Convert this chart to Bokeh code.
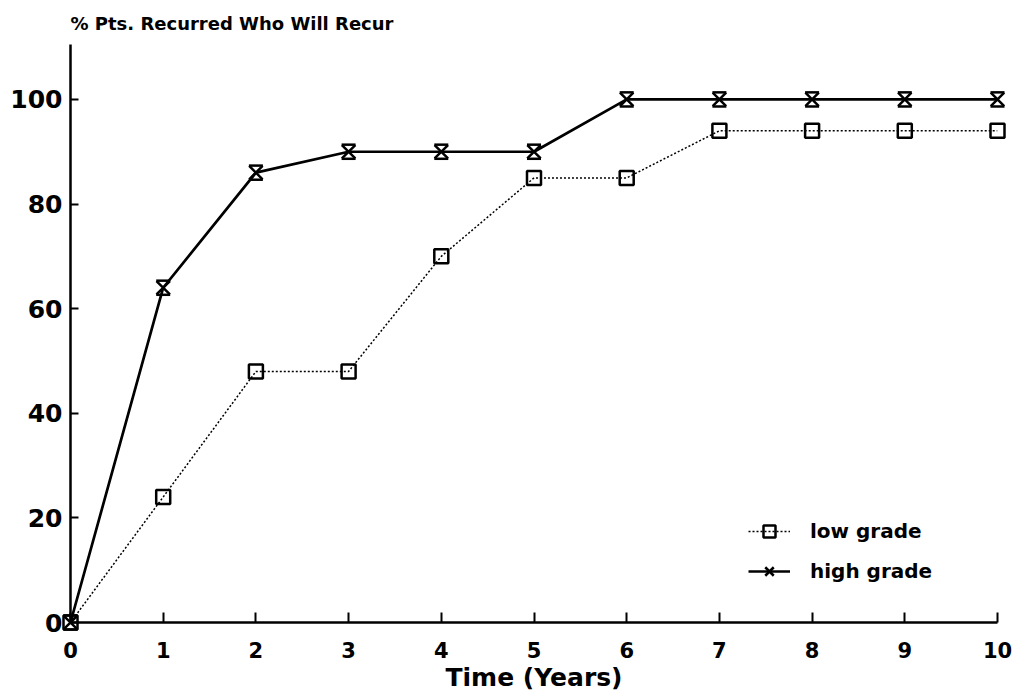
from bokeh.plotting import figure, ColumnDataSource
from bokeh.models import Range1d, FixedTicker, Legend, LegendItem
from bokeh.transform import dodge
from bokeh.embed import file_html
from bokeh.resources import INLINE

# ---- data ----
years = [0, 1, 2, 3, 4, 5, 6, 7, 8, 9, 10]
low_grade = [0, 24, 48, 48, 70, 85, 85, 94, 94, 94, 94]
high_grade = [0, 64, 86, 90, 90, 90, 100, 100, 100, 100, 100]
x_ticks = [0, 1, 2, 3, 4, 5, 6, 7, 8, 9, 10]
y_ticks = [0, 20, 40, 60, 80, 100]
title_text = "% Pts. Recurred Who Will Recur"
x_label = "Time (Years)"
series_names = ["low grade", "high grade"]

FONT = "DejaVu Sans"

src = ColumnDataSource(dict(x=years, low=low_grade, high=high_grade))

p = figure(width=1014, height=694, output_backend="svg", toolbar_location=None,
           x_range=Range1d(0, 10), y_range=Range1d(0, 110.5),
           min_border_left=70, min_border_right=17, min_border_top=42,
           min_border_bottom=72, title=title_text)

p.outline_line_color = None
p.xgrid.visible = False
p.ygrid.visible = False

p.title.text_font = FONT
p.title.text_font_style = "bold"
p.title.text_font_size = "18px"
p.title.text_color = "black"
p.title.align = "left"
p.title.standoff = 21

for ax in (p.xaxis[0], p.yaxis[0]):
    ax.axis_line_width = 2.5
    ax.axis_line_color = "black"
    ax.major_tick_line_width = 2
    ax.major_tick_line_color = "black"
    ax.major_tick_in = 10
    ax.major_tick_out = 0
    ax.minor_tick_line_color = None
    ax.major_label_text_font = FONT
    ax.major_label_text_font_style = "bold"
    ax.major_label_text_color = "black"

p.xaxis.ticker = FixedTicker(ticks=x_ticks)
p.yaxis.ticker = FixedTicker(ticks=y_ticks)
p.xaxis.major_label_text_font_size = "21px"
p.yaxis.major_label_text_font_size = "25px"
p.yaxis.major_tick_in = 8
p.xaxis.major_label_standoff = 19
p.yaxis.major_label_standoff = 8

p.xaxis.axis_label = x_label
p.xaxis.axis_label_text_font = FONT
p.xaxis.axis_label_text_font_style = "bold"
p.xaxis.axis_label_text_font_size = "25px"
p.xaxis.axis_label_text_color = "black"
p.xaxis.axis_label_standoff = 2

# low grade: dotted line with open squares
low_line = p.line("x", "low", source=src, line_color="black", line_width=1.5,
                  line_dash="2 2")
low_sq = p.scatter("x", "low", source=src, marker="square", size=14,
                   fill_color=None, line_color="black", line_width=2.5,
                   level="overlay")

# high grade: solid line with hourglass markers
HG = 1.35  # half height of hourglass in data units (~7 px)
high_line = p.line("x", "high", source=src, line_color="black", line_width=2.7)
high_x = p.scatter("x", "high", source=src, marker="x", size=19,
                   line_color="black", line_width=2.5, level="overlay")
high_top = p.scatter("x", dodge("high", HG), source=src, marker="dash", size=14,
                     line_color="black", line_width=2.5, level="overlay")
high_bot = p.scatter("x", dodge("high", -HG), source=src, marker="dash", size=14,
                     line_color="black", line_width=2.5, level="overlay")

legend = Legend(items=[
    LegendItem(label=series_names[0], renderers=[low_line, low_sq]),
    LegendItem(label=series_names[1], renderers=[high_line, high_x]),
], location=(678, 36))
legend.border_line_color = None
legend.background_fill_alpha = 0
legend.padding = 0
legend.margin = 0
legend.spacing = 10
legend.glyph_width = 42
legend.glyph_height = 30
legend.label_height = 30
legend.label_standoff = 20
legend.label_text_font = FONT
legend.label_text_font_style = "bold"
legend.label_text_font_size = "20px"
legend.label_text_color = "black"
p.add_layout(legend)

open("out.html", "w").write(file_html(p, INLINE))
